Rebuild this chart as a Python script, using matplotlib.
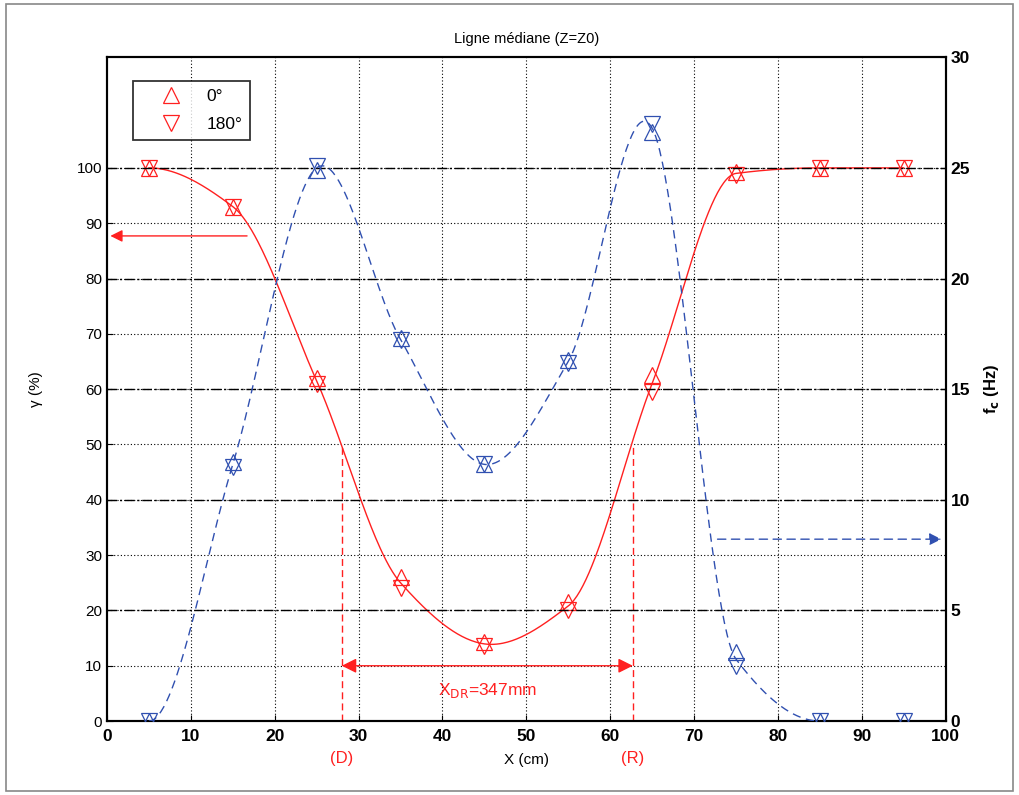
import numpy as np
import matplotlib
matplotlib.use("Agg")
import matplotlib.pyplot as plt
from matplotlib.patches import Rectangle

plt.rcParams['font.family'] = ['Liberation Sans', 'DejaVu Sans']

# ---- data ----
x_pos = [5, 15, 25, 35, 45, 55, 65, 75, 85, 95]
gamma_0 = [100, 93, 62, 26, 14.3, 21.6, 62.5, 99.2, 100, 100]      # % (0 deg)
gamma_180 = [100, 93, 61, 24, 13.6, 20.0, 59.5, 98.8, 100, 100]    # % (180 deg)
fc_0 = [0, 11.7, 24.9, 17.3, 11.6, 16.3, 26.6, 3.1, 0, 0]          # Hz (0 deg)
fc_180 = [0, 11.5, 25.1, 17.2, 11.6, 16.2, 27.0, 2.5, 0, 0]        # Hz (180 deg)
x_D = 28.0
x_R = 62.7
gamma_half = 50
arrow_level = 10
xdr_label = 'X$_{\\mathrm{DR}}$=347mm'
x_ticks = list(range(0, 101, 10))
left_ticks = list(range(0, 101, 10))
right_ticks = list(range(0, 31, 5))


def hermite_curve(x, y, xs):
    """Cubic Hermite: monotone (harmonic) slopes on monotone runs,
    central differences at local extrema, flat ends."""
    x = np.asarray(x, float); y = np.asarray(y, float)
    n = len(x); h = np.diff(x); d = np.diff(y) / h
    m = np.zeros(n)
    for i in range(1, n - 1):
        if d[i - 1] * d[i] > 0:
            m[i] = 2.0 / (1.0 / d[i - 1] + 1.0 / d[i])
        elif d[i - 1] == 0 or d[i] == 0:
            m[i] = 0.0
        else:
            m[i] = (y[i + 1] - y[i - 1]) / (x[i + 1] - x[i - 1])
    out = np.empty_like(xs)
    for k, xv in enumerate(xs):
        i = min(max(np.searchsorted(x, xv) - 1, 0), n - 2)
        t = (xv - x[i]) / h[i]
        h00 = 2 * t ** 3 - 3 * t ** 2 + 1
        h10 = t ** 3 - 2 * t ** 2 + t
        h01 = -2 * t ** 3 + 3 * t ** 2
        h11 = t ** 3 - t ** 2
        out[k] = h00 * y[i] + h10 * h[i] * m[i] + h01 * y[i + 1] + h11 * h[i] * m[i + 1]
    return out


fig = plt.figure(figsize=(10.19, 7.95), dpi=100)
fig.patches.append(Rectangle((0.006, 0.005), 0.988, 0.99, transform=fig.transFigure,
                             fill=False, edgecolor='#888888', linewidth=1.2))
ax = fig.add_axes([0.105, 0.093, 0.823, 0.835])
ax2 = ax.twinx()

red = '#ff2020'
blue = '#3050b0'

ax.set_xlim(0, 100)
ax.set_ylim(0, 120)
ax2.set_ylim(0, 30)

# grids
for xv in x_ticks[1:-1]:
    ax.axvline(xv, color='black', linestyle=(0, (1, 2)), linewidth=0.8, zorder=0)
for yv in left_ticks[1:]:
    ax.axhline(yv, color='black', linestyle=(0, (1, 2)), linewidth=0.8, zorder=0)
for yv in right_ticks[1:-1]:
    ax2.axhline(yv, color='black', linestyle=(0, (7, 2, 1.5, 2)), linewidth=1.0, zorder=0)

# red curve
xs = np.linspace(x_pos[0], x_pos[-1], 500)
g_mean = (np.array(gamma_0) + np.array(gamma_180)) / 2
ax.plot(xs, hermite_curve(x_pos, g_mean, xs), color=red, linewidth=1.0, zorder=3)
ax.plot(x_pos, gamma_0, linestyle='none', marker='^', markersize=12, markerfacecolor='none',
        markeredgecolor=red, markeredgewidth=0.9, label='0°', zorder=4)
ax.plot(x_pos, gamma_180, linestyle='none', marker='v', markersize=12, markerfacecolor='none',
        markeredgecolor=red, markeredgewidth=0.9, label='180°', zorder=4)

# blue curve (drawn up to x=85)
f_mean = (np.array(fc_0) + np.array(fc_180)) / 2
xsb = np.linspace(x_pos[0], x_pos[8], 500)
yb = np.clip(hermite_curve(x_pos, f_mean, xsb), 0, None)
ax2.plot(xsb, yb, color=blue, linewidth=1.0, linestyle=(0, (6, 4)), zorder=3)
ax2.plot(x_pos, fc_0, linestyle='none', marker='^', markersize=12, markerfacecolor='none',
         markeredgecolor=blue, markeredgewidth=0.9, zorder=4)
ax2.plot(x_pos, fc_180, linestyle='none', marker='v', markersize=12, markerfacecolor='none',
         markeredgecolor=blue, markeredgewidth=0.9, zorder=4)

# D / R lines
for xv in (x_D, x_R):
    ax.plot([xv, xv], [0, gamma_half], color=red, linestyle=(0, (5, 3)), linewidth=1.0, zorder=3)
ax.annotate('', xy=(x_D, arrow_level), xytext=(x_R, arrow_level),
            arrowprops=dict(arrowstyle='<|-|>', color=red, lw=1.0, mutation_scale=22,
                            shrinkA=0, shrinkB=0), zorder=5)
ax.text((x_D + x_R) / 2, 5.5, xdr_label, color=red, fontsize=12.5, ha='center', va='center')
ax.text(x_D, -6.8, '(D)', color=red, fontsize=12, ha='center', va='center')
ax.text(x_R, -6.8, '(R)', color=red, fontsize=12, ha='center', va='center')

# side arrows
ax.annotate('', xy=(0.4, 87.7), xytext=(16.7, 87.7),
            arrowprops=dict(arrowstyle='-|>', color=red, lw=1.0, mutation_scale=18,
                            shrinkA=0, shrinkB=0))
ax2.annotate('', xy=(99.5, 8.22), xytext=(72.8, 8.22),
             arrowprops=dict(arrowstyle='-|>', color=blue, lw=1.0, linestyle=(0, (6, 4)),
                             mutation_scale=18, shrinkA=0, shrinkB=0))

# axes styling
ax.set_xticks(x_ticks)
ax.set_yticks(left_ticks)
ax2.set_yticks(right_ticks)
ax.tick_params(axis='x', direction='in', length=4, labelsize=12.5, pad=6)
ax.tick_params(axis='y', direction='in', length=4, labelsize=11)
ax2.tick_params(axis='y', direction='in', length=4, labelsize=12.5)
for lab in ax.get_xticklabels():
    lab.set_fontweight('bold')
for lab in ax2.get_yticklabels():
    lab.set_fontweight('bold')
for sp in list(ax.spines.values()) + list(ax2.spines.values()):
    sp.set_linewidth(1.5)

ax.set_xlabel('X (cm)', fontsize=11, labelpad=6)
ax.set_ylabel('γ (%)', fontsize=11, labelpad=24)
ax2.set_ylabel('f$_{\\mathbf{c}}$ (Hz)', fontsize=12, fontweight='bold', labelpad=9)
ax.set_title('Ligne médiane (Z=Z0)', fontsize=10.5, pad=10)

leg = ax.legend(loc='upper left', bbox_to_anchor=(0.031, 0.964), fontsize=12.5,
                frameon=True, fancybox=False, edgecolor='black', borderpad=0.45,
                borderaxespad=0, handletextpad=0.3, labelspacing=0.75, handlelength=3.5)
leg.get_frame().set_linewidth(1.3)

fig.savefig('out.png', dpi=100)
